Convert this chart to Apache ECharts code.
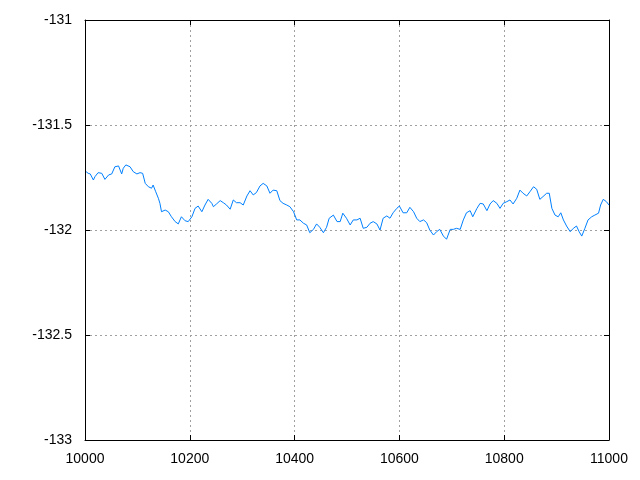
<!DOCTYPE html>
<html>
<head>
<meta charset="utf-8">
<script src="https://cdn.jsdelivr.net/npm/echarts@6/dist/echarts.min.js"></script>
<style>html,body{margin:0;padding:0;background:#fff}#c{width:640px;height:480px}</style>
</head>
<body>
<div id="c"></div>
<script>
const xValues = [10002,10006,10010,10016,10019,10025,10032,10038,10045,10051,10057,10064,10070,10073,10078,10086,10092,10099,10105,10110,10115,10121,10127,10130,10135,10140,10143,10146,10153,10159,10165,10172,10178,10184,10191,10197,10204,10210,10216,10223,10229,10235,
10242,10245,10251,10258,10264,10270,10277,10283,10289,10296,10302,10309,10315,10321,10327,10334,10340,10347,10353,10359,10366,10372,10378,10385,10391,10398,10404,10410,10417,10423,10429,10436,10442,10448,10455,10461,10466,
10468,10474,10481,10487,10492,10499,10506,10512,10519,10525,10531,10538,10544,10550,10557,10563,10569,10576,10582,10588,10595,10600,10607,10614,10620,10627,10633,10639,10646,10652,10658,10665,10671,10677,10684,10690,
10697,10703,10709,10716,10722,10728,10735,10740,10748,10754,10760,10767,10773,10779,10786,10792,10798,10805,10811,10817,10824,10830,10836,10843,10849,10856,10862,10868,10874,10881,10886,
10891,10897,10903,10908,10913,10919,10926,10932,10938,10943,10948,10954,10960,10967,10973,10980,10984,10989,10995,11000];
const yValues = [-131.722,-131.730,-131.733,-131.762,-131.746,-131.727,-131.730,-131.759,-131.738,-131.733,-131.699,-131.695,-131.733,-131.706,-131.690,-131.699,-131.722,-131.733,-131.727,-131.730,-131.778,-131.794,-131.801,-131.786,-131.818,-131.849,-131.873,-131.913,-131.905,-131.913,-131.937,-131.960,-131.971,-131.937,-131.956,-131.960,-131.937,-131.897,-131.886,-131.913,-131.881,-131.854,
-131.873,-131.889,-131.876,-131.860,-131.870,-131.881,-131.901,-131.857,-131.870,-131.870,-131.881,-131.838,-131.813,-131.833,-131.822,-131.790,-131.778,-131.790,-131.825,-131.810,-131.813,-131.860,-131.873,-131.881,-131.889,-131.913,-131.952,-131.952,-131.968,-131.976,-132.013,-131.997,-131.971,-131.987,-132.013,-131.987,-131.944,
-131.944,-131.929,-131.960,-131.960,-131.920,-131.944,-131.976,-131.952,-131.952,-131.944,-131.992,-131.987,-131.968,-131.960,-131.971,-132.000,-131.944,-131.933,-131.944,-131.918,-131.897,-131.886,-131.918,-131.918,-131.892,-131.913,-131.944,-131.960,-131.952,-131.965,-132.000,-132.024,-132.008,-131.997,-132.029,-132.044,
-131.997,-131.997,-131.992,-131.997,-131.952,-131.918,-131.908,-131.937,-131.897,-131.873,-131.876,-131.908,-131.876,-131.860,-131.873,-131.897,-131.873,-131.865,-131.857,-131.876,-131.849,-131.810,-131.825,-131.838,-131.818,-131.794,-131.806,-131.854,-131.841,-131.825,-131.825,
-131.897,-131.929,-131.937,-131.918,-131.952,-131.981,-132.008,-131.992,-131.981,-132.008,-132.029,-131.992,-131.952,-131.937,-131.929,-131.920,-131.881,-131.854,-131.865,-131.881];
const xMin = 10000, xMax = 11000, xStep = 200;
const yMin = -133, yMax = -131, yStep = 0.5;

const points = xValues.map((x, i) => [x, yValues[i]]);
const chart = echarts.init(document.getElementById('c'), null, {renderer: 'canvas'});
const font = {fontFamily: 'Liberation Sans', fontSize: 14, color: '#000', formatter: v => String(v)};
const line = {show: true, lineStyle: {color: '#000', width: 1}};
const tick = {show: true, inside: true, length: 5, lineStyle: {color: '#000', width: 1}};
const grid = {show: true, lineStyle: {color: '#a0a0a0', type: [2, 3], width: 1}};
chart.setOption({
  animation: false,
  backgroundColor: '#fff',
  grid: {left: 85, right: 31, top: 20, bottom: 40, containLabel: false},
  xAxis: [
    {type: 'value', min: xMin, max: xMax, interval: xStep, position: 'bottom',
     axisLine: line, axisTick: tick, splitLine: grid,
     axisLabel: Object.assign({margin: 12}, font)},
    {type: 'value', min: xMin, max: xMax, interval: xStep, position: 'top',
     axisLine: line, axisTick: tick, splitLine: {show: false}, axisLabel: {show: false}}
  ],
  yAxis: [
    {type: 'value', min: yMin, max: yMax, interval: yStep, position: 'left',
     axisLine: line, axisTick: tick, splitLine: grid,
     axisLabel: Object.assign({margin: 13}, font)},
    {type: 'value', min: yMin, max: yMax, interval: yStep, position: 'right',
     axisLine: line, axisTick: tick, splitLine: {show: false}, axisLabel: {show: false}}
  ],
  series: [{
    type: 'line', data: points, showSymbol: false, symbol: 'none',
    lineStyle: {color: '#0080ff', width: 1}, xAxisIndex: 0, yAxisIndex: 0
  }]
});
</script>
</body>
</html>
